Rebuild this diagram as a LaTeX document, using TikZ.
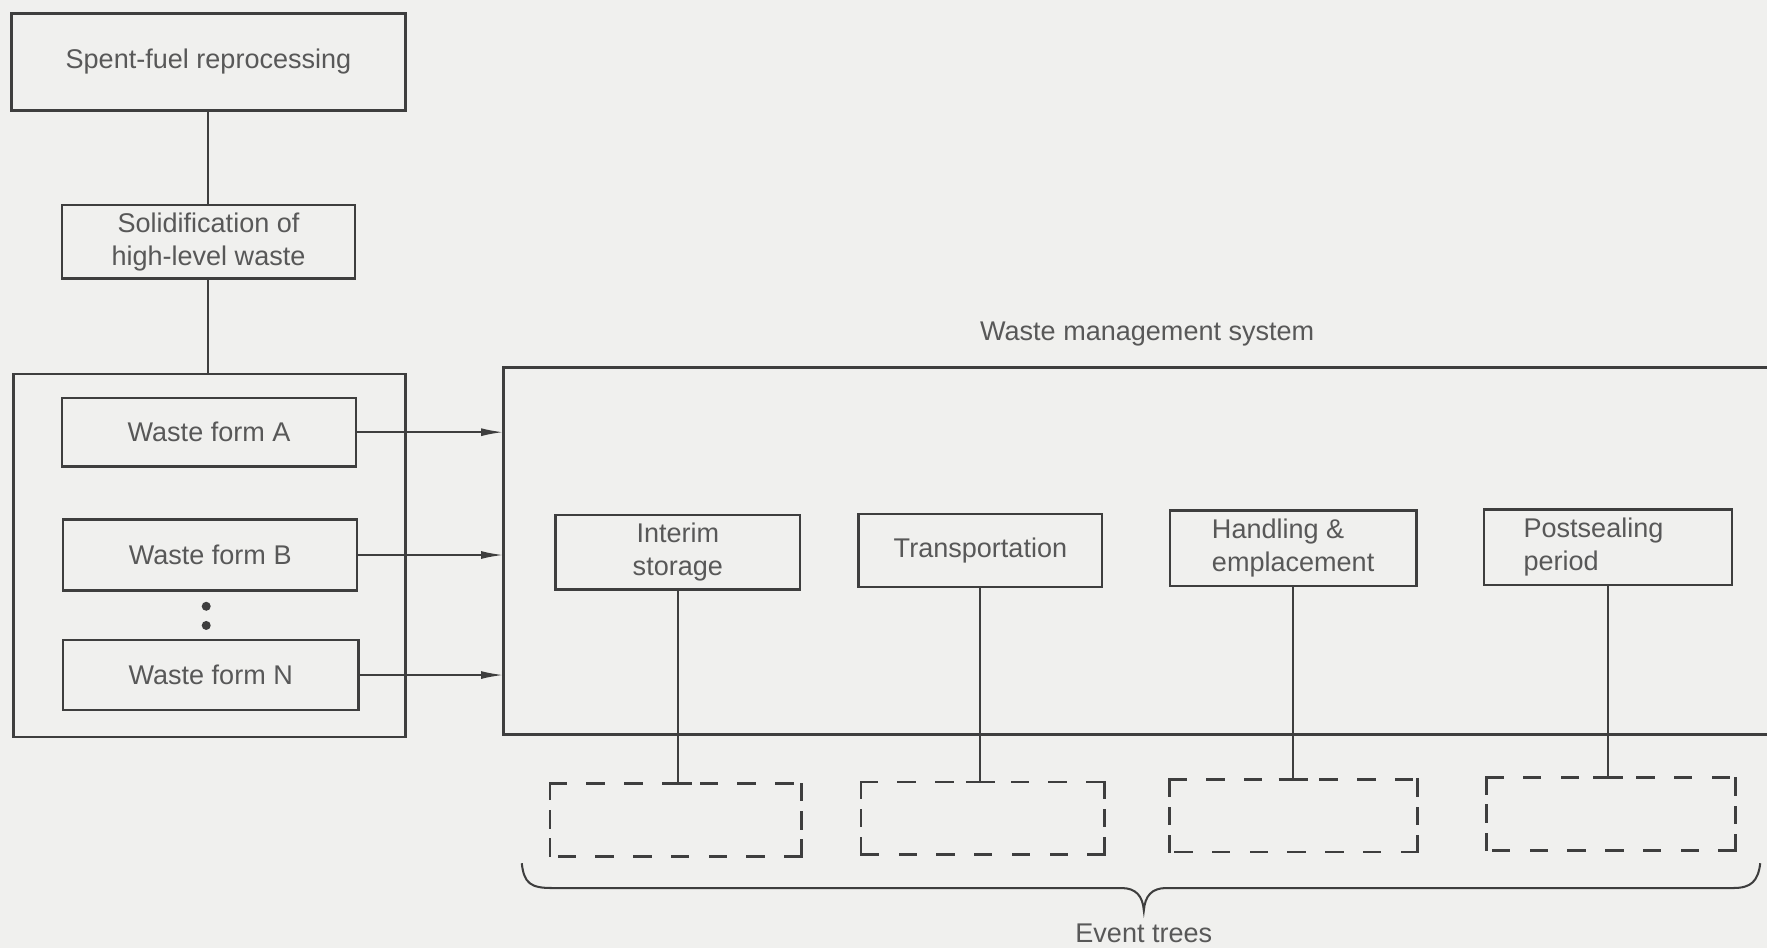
\documentclass[tikz,border=0pt]{standalone}
\usepackage{fontspec}
\setmainfont{Liberation Sans}
\usetikzlibrary{arrows.meta}
\definecolor{paper}{RGB}{240,240,238}
\definecolor{ink}{RGB}{62,62,62}
\definecolor{txt}{RGB}{88,88,88}
\newcommand\wtext{\fontsize{24}{29}\selectfont}
\tikzset{
  sz/.style 2 args={minimum width=#1pt, minimum height=#2pt},
  box/.style={draw=ink, line width=2.2pt, inner sep=0pt, outer sep=0pt,
              font=\wtext, text=txt, align=center},
  evbox/.style={inner sep=0pt, outer sep=0pt},
  evside/.style={draw=ink, line width=2.4pt, line cap=rect},
  hdash/.style={evside, dash pattern=on 14pt off 19.5pt},
  vdash/.style={evside, dash pattern=on 14pt off 11pt},
  link/.style={draw=ink, line width=1.8pt},
  feed/.style={draw=ink, line width=1.8pt, -{Latex[length=20pt,width=7pt]}},
  caption/.style={font=\wtext, text=txt, inner sep=0pt},
  dotmark/.style={circle, fill=ink, inner sep=0pt, minimum size=8pt}
}
\begin{document}
\begin{tikzpicture}[x=1pt,y=-1pt]
  \path[use as bounding box] (0,0) rectangle (1568,841);
  \clip (0,0) rectangle (1568,841);
  \fill[paper] (0,0) rectangle (1568,841);

  % source chain
  \node[box, sz={350}{86}] (spent) at (185,55) {Spent-fuel reprocessing};
  \node[box, sz={260}{65}] (solid) at (185,214.5) {Solidification of\\high-level waste};

  % waste forms
  \node[box, sz={348}{322}] (forms) at (186,493) {};
  \node[box, sz={261}{61}] (wfA) at (185.5,383.5) {Waste form A};
  \node[box, sz={261}{63}] (wfB) at (186.5,492.5) {Waste form B};
  \node[box, sz={262}{62}] (wfN) at (187,599) {Waste form N};
  \node[dotmark] (dotA) at (183,538) {};
  \node[dotmark] (dotB) at (183,555) {};

  % waste management system (runs off the right edge)
  \node[box, sz={1160}{326}, line width=2.4pt] (wms) at (1027,489) {};
  \node[caption] (wmslabel) at (1018,296) {Waste management system};

  \node[box, sz={217}{66}] (interim) at (601.5,490) {Interim\\storage};
  \node[box, sz={216}{65}] (transp) at (870,488.5) {Transportation};
  \node[box, sz={219}{67}, align=left] (handl) at (1147.5,486.5) {Handling \&\\emplacement};
  \node[box, sz={220}{67}, align=left, text width=150pt, inner xsep=35pt] (post) at (1427,485.5) {Postsealing\\period};

  % event trees: dashed frames with a dash at every corner
  \node[evbox, sz={223}{65}] (evI) at (599.5,727.5) {};
  \node[evbox, sz={216}{64}] (evT) at (872,726) {};
  \node[evbox, sz={220}{64}] (evH) at (1148,724) {};
  \node[evbox, sz={221}{65}] (evP) at (1429.5,722.5) {};
  \foreach \e in {evI, evT, evH, evP}{
    \draw[hdash] (\e.north west) -- (\e.north east);
    \draw[hdash] (\e.south east) -- (\e.south west);
    \draw[vdash] (\e.north west) -- (\e.south west);
    \draw[vdash] (\e.south east) -- (\e.north east);
  }

  % connectors
  \draw[link] (spent.south) -- (solid.north);
  \draw[link] (solid.south) -- (solid.south |- forms.north);
  \draw[feed] (wfA.east) -- (wfA.east -| wms.west);
  \draw[feed] (wfB.east) -- (wfB.east -| wms.west);
  \draw[feed] (wfN.east) -- (wfN.east -| wms.west);

  \foreach \s/\e in {interim/evI, transp/evT, handl/evH, post/evP}{
    \draw[link] (\s.south) -- (\s.south |- \e.north) coordinate (\e-top);
    \draw[draw=ink, line width=2.4pt] ([xshift=-13pt]\e-top) -- ([xshift=13pt]\e-top);
  }

  % brace grouping the event trees
  \coordinate (brL) at (463,766);
  \coordinate (brTip) at (1015,808);
  \coordinate (brR) at (1562,766);
  \draw[link] (brL) .. controls (465,784) and (471,788) .. (490,788)
    -- (995,788) .. controls (1008,788) and (1014,795) .. (brTip)
    .. controls (1016,795) and (1022,788) .. (1035,788)
    -- (1538,788) .. controls (1554,788) and (1560,782) .. (brR);
  \node[caption] (evlabel) at (1015,828) {Event trees};
\end{tikzpicture}
\end{document}
